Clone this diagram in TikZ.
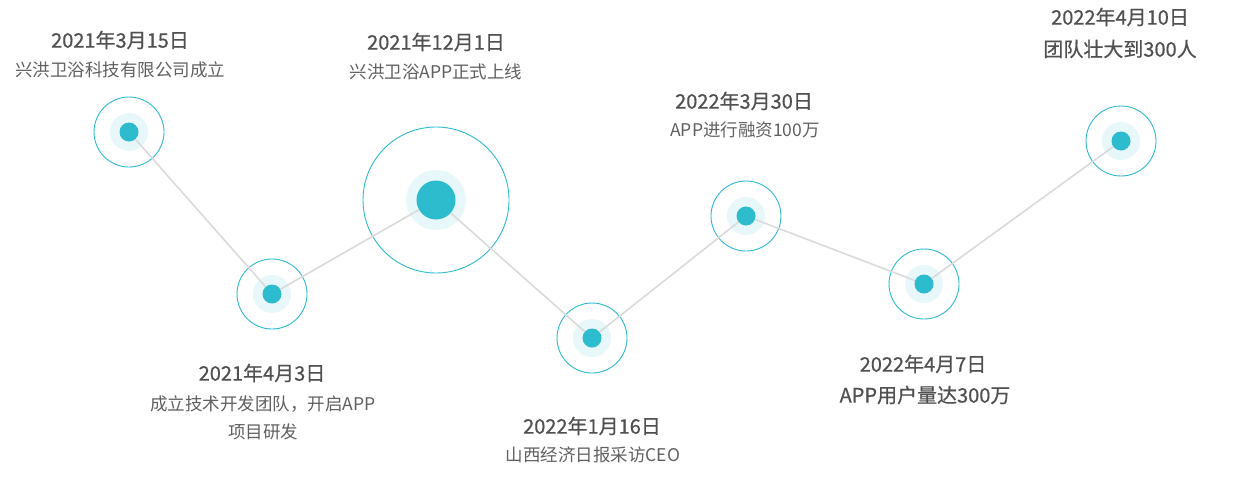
\documentclass[tikz,border=0pt]{standalone}
\usepackage{fontspec}
\setmainfont{Noto Sans CJK SC}
\newfontfamily\heavycjk{Noto Sans CJK SC}[FakeBold=0.6]
\usetikzlibrary{positioning}
\definecolor{dotblue}{HTML}{2DBBCE}
\definecolor{haloblue}{HTML}{E8F8FA}
\definecolor{linkgray}{HTML}{DADADA}
\definecolor{dategray}{HTML}{505050}
\definecolor{descgray}{HTML}{606060}
\tikzset{
ring/.style={circle,draw=dotblue,line width=0.9pt,inner sep=0pt,minimum size=70pt},
halo/.style={circle,fill=haloblue,inner sep=0pt,minimum size=38pt},
dot/.style={circle,fill=dotblue,inner sep=0pt,minimum size=19pt},
link/.style={draw=linkgray,line width=1.6pt},
date/.style={font=\heavycjk\fontsize{20}{24}\selectfont,text=dategray,inner sep=0pt},
desc/.style={font=\fontsize{17.5}{28}\selectfont,text=descgray,inner sep=0pt,align=center},
big/.style={font=\heavycjk\fontsize{20}{24}\selectfont,text=dategray}
}
\begin{document}
\begin{tikzpicture}[x=1pt,y=-1pt]
\useasboundingbox (0,0) rectangle (1241,493);
\foreach \n/\x/\y in {1/129/132, 2/272/294, 4/592/338, 5/746/216, 6/924/284, 7/1121/141}{
  \node[ring] (r\n) at (\x,\y) {};
  \node[halo] (h\n) at (\x,\y) {};
  \node[dot]  (p\n) at (\x,\y) {};
}
\node[ring,minimum size=146pt] (r3) at (436,200) {};
\node[halo,minimum size=60pt]  (h3) at (436,200) {};
\node[dot,minimum size=39pt]   (p3) at (436,200) {};

\path[link] (p1) -- (p2) -- (p3) -- (p4) -- (p5) -- (p6) -- (p7);

\node[date]     (d1) at (120,40)  {2021年3月15日};
\node[desc]     (t1) at (120,70)  {兴洪卫浴科技有限公司成立};
\node[date]     (d2) at (262,373) {2021年4月3日};
\node[desc]     (t2) at (263,418) {成立技术开发团队，开启APP\\项目研发};
\node[date]     (d3) at (436,42)  {2021年12月1日};
\node[desc]     (t3) at (436,72)  {兴洪卫浴APP正式上线};
\node[date]     (d4) at (592,426) {2022年1月16日};
\node[desc]     (t4) at (593,455) {山西经济日报采访CEO};
\node[date]     (d5) at (744,101) {2022年3月30日};
\node[desc]     (t5) at (745,130) {APP进行融资100万};
\node[date]     (d6) at (923,364) {2022年4月7日};
\node[desc,big] (t6) at (925,395) {APP用户量达300万};
\node[date]     (d7) at (1120,17) {2022年4月10日};
\node[desc,big] (t7) at (1120,49) {团队壮大到300人};
\end{tikzpicture}
\end{document}
